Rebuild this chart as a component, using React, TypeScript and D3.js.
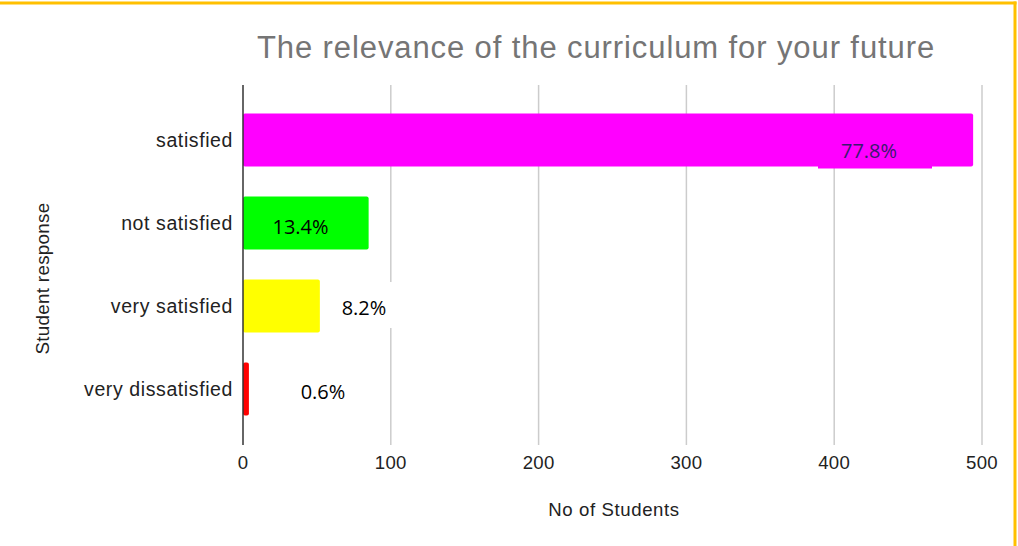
import React from "react";
import * as d3 from "d3";

const categories = ["satisfied", "not satisfied", "very satisfied", "very dissatisfied"];
const counts = [494, 85, 52, 4];
const percentLabels = ["77.8%", "13.4%", "8.2%", "0.6%"];
const barColors = ["#ff00ff", "#00ff00", "#ffff00", "#ff0000"];
const labelColors = ["#3a1a6e", "#000000", "#000000", "#000000"];
const xTicks = [0, 100, 200, 300, 400, 500];

const W = 1018;
const H = 546;
const left = 243;
const right = 982;
const plotTop = 85;
const plotBottom = 445;

// label anchor offsets (relative to value-scale positions / band centers)
const labelX = [869, 300.5, 364, 323];
const labelDy = [17.5, 10.5, 8.5, 9.5];

export default function App() {
  const x = d3.scaleLinear().domain([0, 500]).range([left, right]);
  const y = d3
    .scaleBand<string>()
    .domain(categories)
    .range([98.5, 430.5])
    .paddingInner(0.36)
    .paddingOuter(0.18);

  const axisFont = "'Liberation Sans', Arial, sans-serif";
  const labelFont = "'Open Sans', 'Liberation Sans', sans-serif";
  const mid = (c: string) => y(c)! + y.bandwidth() / 2;

  return (
    <svg
      width={W}
      height={H}
      style={{ position: "absolute", left: 0, top: 0, background: "#fff" }}
    >
      <rect x={0} y={0} width={W} height={H} fill="#fff" />
      {/* border top and right */}
      <line x1={0} x2={1016.5} y1={3} y2={3} stroke="#ffc000" strokeWidth={3} />
      <line x1={1015} x2={1015} y1={1.5} y2={H} stroke="#ffc000" strokeWidth={3} />

      <text
        x={596}
        y={58}
        textAnchor="middle"
        fontFamily={axisFont}
        fontSize={31}
        letterSpacing={0.9}
        fill="#757575"
      >
        The relevance of the curriculum for your future
      </text>

      {/* gridlines */}
      {xTicks.map((t) =>
        t === 0 ? null : (
          <line
            key={t}
            x1={x(t)}
            x2={x(t)}
            y1={plotTop}
            y2={plotBottom}
            stroke="#cccccc"
            strokeWidth={1.5}
          />
        )
      )}

      {/* bars */}
      {categories.map((c, i) => (
        <rect
          key={c}
          x={x(0)}
          y={y(c)!}
          width={x(counts[i]) - x(0)}
          height={y.bandwidth()}
          fill={barColors[i]}
          rx={2}
        />
      ))}

      {/* zero axis */}
      <line x1={x(0)} x2={x(0)} y1={plotTop} y2={plotBottom} stroke="#333" strokeWidth={1.5} />

      {/* category labels */}
      {categories.map((c) => (
        <text
          key={c}
          x={233}
          y={mid(c) + 6.8}
          textAnchor="end"
          fontFamily={axisFont}
          fontSize={19.5}
          letterSpacing={0.6}
          fill="#222"
        >
          {c}
        </text>
      ))}

      {/* label backgrounds */}
      <rect x={818} y={mid(categories[0]) - 5} width={114} height={33.5} fill="#ff00ff" />
      <rect x={330} y={mid(categories[2]) - 24} width={65} height={46} fill="#fff" />

      {/* percentage labels */}
      {categories.map((c, i) => (
        <text
          key={c}
          x={labelX[i]}
          y={mid(c) + labelDy[i]}
          textAnchor="middle"
          fontFamily={labelFont}
          fontSize={20}
          fill={labelColors[i]}
        >
          {percentLabels[i]}
        </text>
      ))}

      {/* x tick labels */}
      {xTicks.map((t) => (
        <text
          key={t}
          x={x(t)}
          y={468.5}
          textAnchor="middle"
          fontFamily={axisFont}
          fontSize={18.6}
          letterSpacing={0.3}
          fill="#222"
        >
          {t}
        </text>
      ))}

      <text
        x={614}
        y={516}
        textAnchor="middle"
        fontFamily={axisFont}
        fontSize={18.6}
        letterSpacing={0.6}
        fill="#222"
      >
        No of Students
      </text>

      <text
        transform={`translate(48.5, 278.5) rotate(-90)`}
        textAnchor="middle"
        fontFamily={axisFont}
        fontSize={18.8}
        letterSpacing={0.3}
        fill="#222"
      >
        Student response
      </text>
    </svg>
  );
}
